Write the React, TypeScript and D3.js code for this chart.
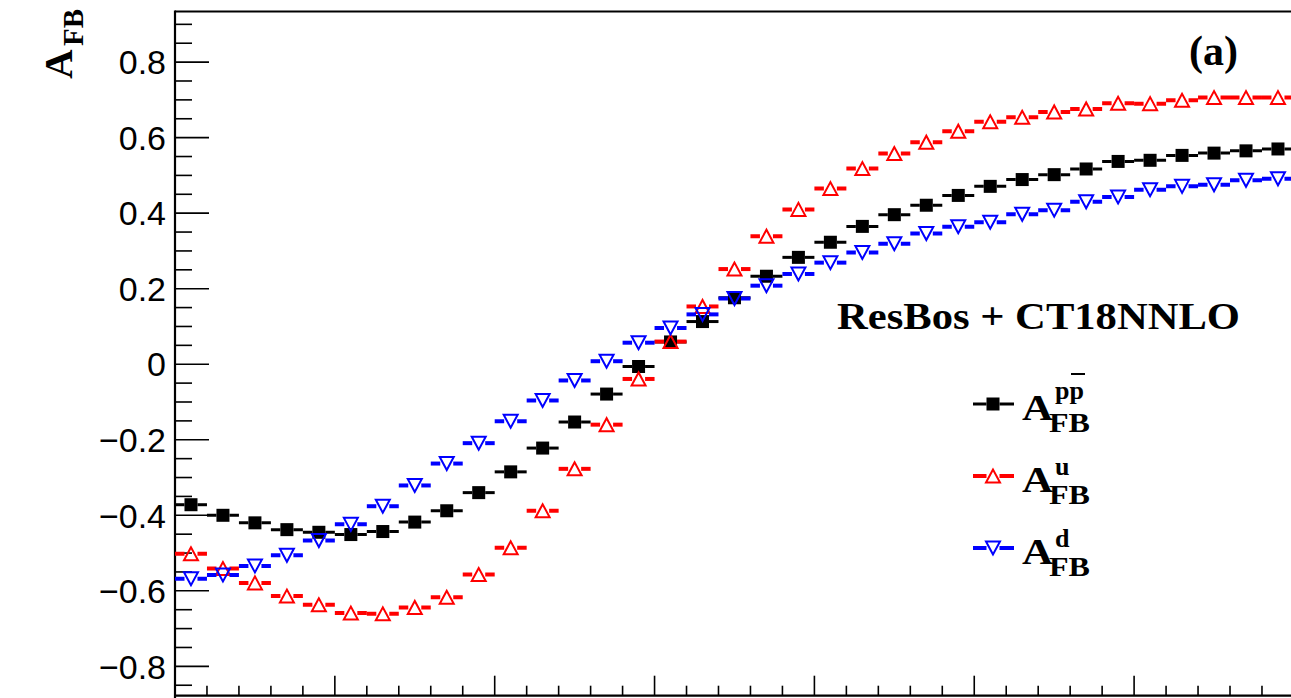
import React from "react";
import * as d3 from "d3";

// ---- data ----
const binIndex: number[] = Array.from({ length: 35 }, (_, i) => i);

const ppbarAfb: number[] = [
  -0.372, -0.400, -0.420, -0.438, -0.445, -0.451, -0.443, -0.418, -0.388, -0.340,
  -0.285, -0.222, -0.153, -0.079, -0.006, 0.059, 0.113, 0.176, 0.233, 0.283,
  0.323, 0.365, 0.396, 0.421, 0.447, 0.471, 0.489, 0.502, 0.517, 0.537,
  0.540, 0.553, 0.559, 0.565, 0.570,
];

const uAfb: number[] = [
  -0.502, -0.541, -0.579, -0.614, -0.637, -0.659, -0.661, -0.644, -0.617, -0.557,
  -0.486, -0.388, -0.277, -0.160, -0.039, 0.060, 0.153, 0.252, 0.339, 0.410,
  0.465, 0.518, 0.558, 0.588, 0.617, 0.642, 0.654, 0.668, 0.676, 0.691,
  0.690, 0.699, 0.706, 0.706, 0.706,
];

const dAfb: number[] = [
  -0.568, -0.558, -0.534, -0.506, -0.467, -0.424, -0.376, -0.321, -0.263, -0.209,
  -0.151, -0.096, -0.043, 0.008, 0.057, 0.096, 0.132, 0.174, 0.208, 0.239,
  0.269, 0.296, 0.319, 0.346, 0.364, 0.376, 0.397, 0.408, 0.430, 0.443,
  0.462, 0.471, 0.475, 0.487, 0.491,
];

const yTickValues: number[] = [-0.8, -0.6, -0.4, -0.2, 0, 0.2, 0.4, 0.6, 0.8];
const yTickLabels: string[] = ["\u22120.8", "\u22120.6", "\u22120.4", "\u22120.2", "0", "0.2", "0.4", "0.6", "0.8"];

const titleText = "ResBos + CT18NNLO";
const panelLabel = "(a)";

const W = 1291;
const H = 698;
const serif = "'Liberation Serif', 'Times New Roman', serif";
const sans = "'Liberation Sans', Arial, Helvetica, sans-serif";

const left = 175;
const top = 11.5;
const bottom = 695.7;
const binW = 31.97;

const x = d3.scaleLinear().domain([0, 35]).range([left, left + 35 * binW]);
const y = d3.scaleLinear().domain([-0.8777, 0.934]).range([bottom, top]);

type Kind = "square" | "up" | "down";

function Marker({ cx, cy, kind, color }: { cx: number; cy: number; kind: Kind; color: string }) {
  if (kind === "square") {
    return <rect x={cx - 6.5} y={cy - 6.5} width={13} height={13} fill={color} />;
  }
  const h = 13;
  const w = 14;
  const pts =
    kind === "up"
      ? [[cx, cy - h / 2], [cx - w / 2, cy + h / 2], [cx + w / 2, cy + h / 2]]
      : [[cx, cy + h / 2], [cx - w / 2, cy - h / 2], [cx + w / 2, cy - h / 2]];
  return (
    <polygon
      points={pts.map((p) => p.join(",")).join(" ")}
      fill="none"
      stroke={color}
      strokeWidth={2}
      strokeLinejoin="miter"
    />
  );
}

function Series({ values, kind, color, lw }: { values: number[]; kind: Kind; color: string; lw: number }) {
  const gap = 6.5;
  return (
    <g>
      {values.map((v, i) => {
        const x0 = x(binIndex[i]);
        const x1 = x(binIndex[i] + 1);
        const cx = x(binIndex[i] + 0.5);
        const cy = y(v);
        return (
          <g key={i}>
            <line x1={x0} x2={cx - gap} y1={cy} y2={cy} stroke={color} strokeWidth={lw} />
            <line x1={cx + gap} x2={x1} y1={cy} y2={cy} stroke={color} strokeWidth={lw} />
            <Marker cx={cx} cy={cy} kind={kind} color={color} />
          </g>
        );
      })}
    </g>
  );
}

const legendRows = [
  { kind: "square" as Kind, color: "#000000", lw: 3, sup: "pp", bar: true, rowY: 404, supDy: -5 },
  { kind: "up" as Kind, color: "#ff0000", lw: 4, sup: "u", bar: false, rowY: 476, supDy: -1 },
  { kind: "down" as Kind, color: "#0000ff", lw: 4, sup: "d", bar: false, rowY: 548, supDy: -1 },
];

export default function App() {
  const yMinor = d3.range(-17, 19).map((k) => k * 0.05).filter((v) => y(v) < bottom - 1 && y(v) > top + 1);
  const xMinor = d3.range(1, 36);
  return (
    <svg
      width={W}
      height={H}
      style={{ position: "absolute", left: 0, top: 0, background: "#ffffff" }}
      xmlns="http://www.w3.org/2000/svg"
    >
      <rect x={0} y={0} width={W} height={H} fill="#ffffff" />
      <defs>
        <clipPath id="plotclip">
          <rect x={left} y={top} width={W - left} height={bottom - top} />
        </clipPath>
      </defs>

      {/* y ticks */}
      {yMinor.map((v, i) => {
        const isMajor = Math.abs(Math.round(v / 0.2) * 0.2 - v) < 1e-6;
        return (
          <line key={"yt" + i} x1={left} x2={left + (isMajor ? 34 : 17)} y1={y(v)} y2={y(v)} stroke="#000" strokeWidth={1.6} />
        );
      })}
      {/* x ticks */}
      {xMinor.map((b) => {
        const isMajor = b % 5 === 0;
        return (
          <line key={"xt" + b} x1={x(b)} x2={x(b)} y1={bottom} y2={bottom - (isMajor ? 20 : 10)} stroke="#000" strokeWidth={1.6} />
        );
      })}

      {/* frame */}
      <line x1={left} x2={W + 5} y1={top} y2={top} stroke="#000" strokeWidth={1.8} />
      <line x1={left} x2={W + 5} y1={bottom} y2={bottom} stroke="#000" strokeWidth={2.2} />
      <line x1={left} x2={left} y1={top - 0.9} y2={H} stroke="#000" strokeWidth={2.2} />

      {/* y tick labels */}
      {yTickValues.map((v, i) => (
        <text key={"yl" + i} x={166} y={y(v)} dy="0.36em" textAnchor="end" fontFamily={sans} fontSize={34} fill="#000">
          {yTickLabels[i]}
        </text>
      ))}

      {/* y axis title */}
      <g transform="translate(72,79) rotate(-90)">
        <text x={0} y={0} fontFamily={serif} fontWeight="bold" fontSize={41} fill="#000">
          A
        </text>
        <text x={33} y={11} fontFamily={serif} fontWeight="bold" fontSize={29} fill="#000">
          FB
        </text>
      </g>

      {/* data */}
      <g clipPath="url(#plotclip)">
        <Series values={ppbarAfb} kind="square" color="#000000" lw={3} />
        <Series values={uAfb} kind="up" color="#ff0000" lw={4} />
        <Series values={dAfb} kind="down" color="#0000ff" lw={4} />
      </g>

      {/* panel label */}
      <text x={1189} y={65} fontFamily={serif} fontWeight="bold" fontSize={42} fill="#000">
        {panelLabel}
      </text>

      {/* title */}
      <text
        x={837}
        y={329}
        fontFamily={serif}
        fontWeight="bold"
        fontSize={37}
        textLength={403}
        lengthAdjust="spacingAndGlyphs"
        fill="#000"
      >
        {titleText}
      </text>

      {/* legend */}
      {legendRows.map((r, i) => (
        <g key={"lg" + i}>
          <line x1={973} x2={993 - 6.5} y1={r.rowY} y2={r.rowY} stroke={r.color} strokeWidth={r.lw} />
          <line x1={993 + 6.5} x2={1014} y1={r.rowY} y2={r.rowY} stroke={r.color} strokeWidth={r.lw} />
          <Marker cx={993} cy={r.rowY} kind={r.kind} color={r.color} />
          <text x={1022} y={r.rowY + 16} fontFamily={serif} fontWeight="bold" fontSize={35} textLength={31} lengthAdjust="spacingAndGlyphs" fill="#000">
            A
          </text>
          <text x={1055} y={r.rowY + r.supDy} fontFamily={serif} fontWeight="bold" fontSize={26} fill="#000">
            {r.sup}
          </text>
          {r.bar && <line x1={1071} x2={1085} y1={r.rowY - 30} y2={r.rowY - 30} stroke="#000" strokeWidth={2} />}
          <text x={1049} y={r.rowY + 28} fontFamily={serif} fontWeight="bold" fontSize={27} textLength={41} lengthAdjust="spacingAndGlyphs" fill="#000">
            FB
          </text>
        </g>
      ))}
    </svg>
  );
}
